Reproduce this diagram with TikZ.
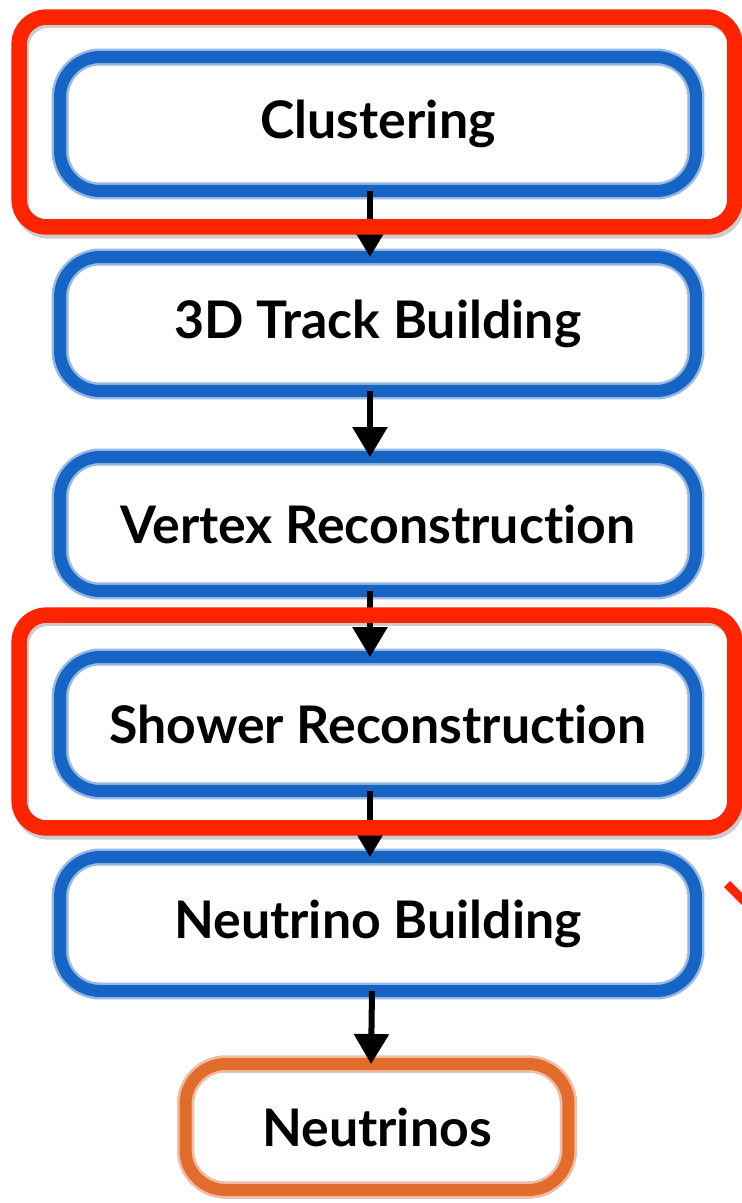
\documentclass[tikz,border=0pt]{standalone}
\usepackage{fontspec}
\setmainfont[Ligatures=NoCommon, Contextuals=NoAlternate]{Lato}
\usetikzlibrary{arrows.meta}
\definecolor{stageblue}{RGB}{22,100,196}
\definecolor{stageorange}{RGB}{226,108,44}
\definecolor{markred}{RGB}{255,36,0}
\begin{document}
\begin{tikzpicture}[x=0.02cm, y=-0.02cm,
  stage/.style={draw=stageblue, line width=0.24cm, rounded corners=0.8cm,
    minimum width=12.72cm, minimum height=2.68cm, inner sep=0pt, outer sep=0pt,
    preaction={draw=stageblue!45, line width=0.34cm},
    font=\bfseries\fontsize{29.5}{34}\selectfont},
  result/.style={stage, draw=stageorange, preaction={draw=stageorange!45, line width=0.34cm},
    minimum width=7.66cm, minimum height=2.52cm},
  flow/.style={-{Triangle[width=0.68cm, length=0.6cm]}, line width=0.12cm},
  frame/.style={draw=markred, line width=0.31cm, rounded corners=0.55cm}]
\useasboundingbox (0,0) rectangle (741,1203);
\node[stage] (clu) at (378,124) {Clustering};
\node[stage] (trk) at (378,324) {3D Track Building};
\node[stage] (vtx) at (378,524) {Vertex Reconstruction};
\node[stage] (shw) at (378,724) {Shower Reconstruction};
\node[stage] (nbd) at (378,924) {Neutrino Building};
\node[result] (nus) at (377,1127) {Neutrinos};
% shadows of the highlight frames
\draw[frame, draw=black!20] ([shift={(-39,-37)}]clu.north west) rectangle ([shift={(41,40)}]clu.south east);
\draw[frame, draw=black!20] ([shift={(-39,-39)}]shw.north west) rectangle ([shift={(41,41)}]shw.south east);
\draw[flow] ([xshift=-0.16cm]clu.south) -- ([xshift=-0.16cm]trk.north);
\draw[flow] ([xshift=-0.16cm]trk.south) -- ([xshift=-0.16cm]vtx.north);
\draw[flow] ([xshift=-0.16cm]vtx.south) -- ([xshift=-0.16cm]shw.north);
\draw[flow] ([xshift=-0.16cm]shw.south) -- ([xshift=-0.16cm]nbd.north);
\draw[flow] ([xshift=-0.12cm]nbd.south) -- ([xshift=-0.12cm]nus.north);
% highlighted stages
\draw[frame] ([shift={(-41,-40)}]clu.north west) rectangle ([shift={(39,36)}]clu.south east);
\draw[frame] ([shift={(-41,-42)}]shw.north west) rectangle ([shift={(39,37)}]shw.south east);
\draw[markred, line width=0.17cm] (727,884) -- (750,907);
\end{tikzpicture}
\end{document}
